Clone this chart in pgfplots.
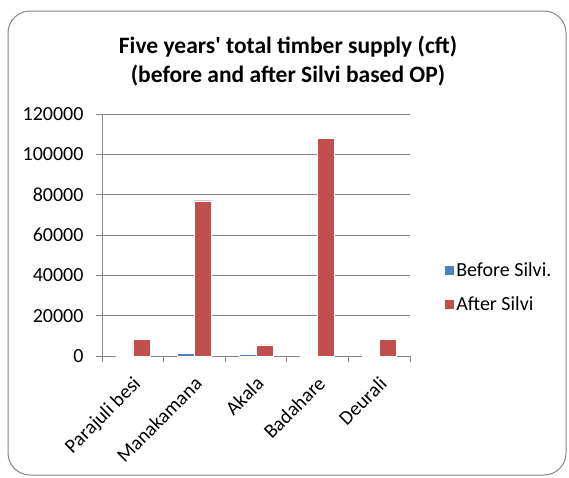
\documentclass[border=0pt]{standalone}
\usepackage{fontspec}
\setmainfont{Carlito}
\usepackage{pgfplots}
\pgfplotsset{compat=1.18}
\definecolor{cblue}{HTML}{4F81BD}
\definecolor{cred}{HTML}{C0504D}
\definecolor{cgrid}{HTML}{868686}
\begin{document}
\begin{tikzpicture}
\useasboundingbox (0pt,0pt) rectangle (569pt,-477pt);
\draw[cgrid, line width=1pt, rounded corners=22pt] (8pt,-11pt) rectangle (566pt,-475pt);
\node[font=\fontsize{23.5}{29}\selectfont\bfseries, align=center] at (288pt,-61pt) {Five years\textquotesingle\ total timber supply (cft)\\(before and after Silvi based OP)};
\begin{axis}[
  at={(102pt,-356pt)}, anchor=south west,
  scale only axis, width=308pt, height=242pt,
  xmin=-0.5, xmax=4.5, ymin=0, ymax=120000,
  ybar=0pt, bar width=17pt,
  xtick={0,1,2,3,4},
  xticklabels={Parajuli besi,Manakamana,Akala,Badahare,Deurali},
  major x tick style={draw=none},
  minor xtick={-0.5,0.5,1.5,2.5,3.5,4.5},
  minor x tick style={cgrid, line width=0.8pt},
  minor tick length=6pt,
  ytick={0,20000,...,120000},
  major tick length=6pt,
  tick align=outside,
  ytick pos=left, xtick pos=bottom,
  y tick style={cgrid, line width=0.8pt},
  ymajorgrids, grid style={cgrid, line width=0.8pt},
  axis x line*=bottom, axis y line*=left,
  axis line style={cgrid, line width=0.8pt},
  scaled y ticks=false,
  /pgf/number format/assume math mode=true,
  yticklabel={\pgfmathprintnumber[fixed,use comma=false,1000 sep={}]{\tick}},
  every tick label/.append style={font=\fontsize{20}{24}\selectfont},
  y tick label style={xshift=-9pt},
  x tick label style={xshift=-1pt, yshift=-13pt, rotate=45, anchor=north east, inner sep=0pt},
  legend style={draw=none, fill=none, at={(1.1,0.285)}, anchor=west,
    font=\fontsize{20}{24}\selectfont, row sep=15pt,
    legend cell align=left},
  legend image code/.code={\fill[#1] (0pt,-5pt) rectangle (10pt,5pt);},
  clip=false,
]
\addplot[fill=cblue, draw=white, line width=0.3pt] coordinates {(0,300) (1,1300) (2,800) (3,400) (4,400)};
\addplot[fill=cred, draw=white, line width=0.3pt] coordinates {(0,8200) (1,77000) (2,5500) (3,108000) (4,8200)};
\legend{Before Silvi.,After Silvi}
\end{axis}
\end{tikzpicture}
\end{document}
